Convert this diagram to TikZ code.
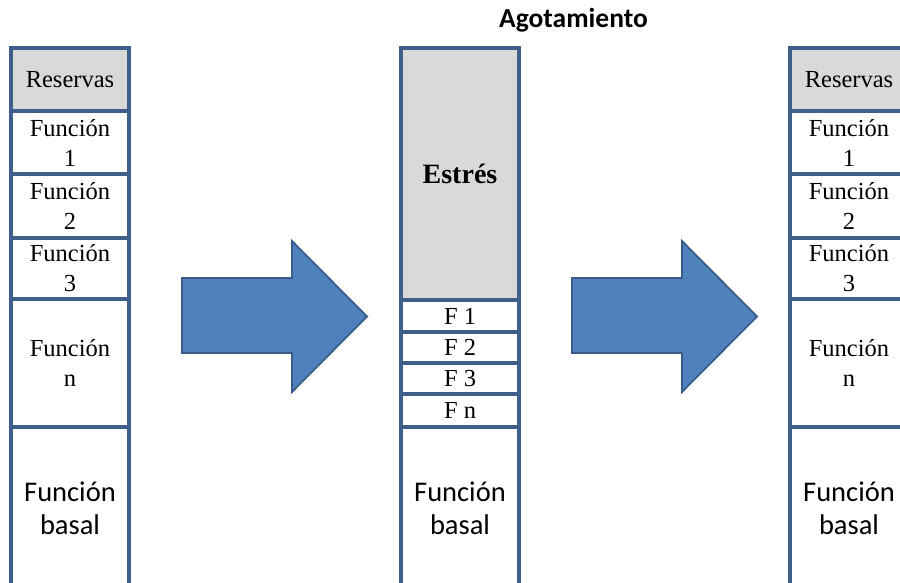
\documentclass[tikz,border=0pt]{standalone}
\usepackage{fontspec}
\setmainfont{Liberation Serif}
\newfontfamily\calib{Carlito}
\definecolor{edgeblue}{HTML}{3F5E8A}
\definecolor{cellgray}{HTML}{D9D9D9}
\definecolor{arrowfill}{HTML}{4F81BD}
\definecolor{arrowedge}{HTML}{385D8A}
\tikzset{
  cell/.style={draw=edgeblue, line width=3.2pt, rectangle, inner sep=0pt,
    minimum width=118pt, align=center, text=black,
    font=\fontsize{24.5}{30}\selectfont},
  graycell/.style={cell, fill=cellgray},
  basalcell/.style={cell, font=\calib\fontsize{28.5}{33}\selectfont},
  bigarrow/.style={fill=arrowfill, draw=arrowedge, line width=1.8pt, line join=miter},
  titletext/.style={font=\calib\bfseries\fontsize{27.5}{30}\selectfont, inner sep=0pt}
}
\begin{document}
\begin{tikzpicture}[x=1pt,y=-1pt]
\useasboundingbox (0,0) rectangle (900,583);
\clip (0,0) rectangle (900,583);
\fill[white] (0,0) rectangle (900,583);

% left column
\node[graycell, minimum height=63pt] (l0) at (70,79.5) {Reservas};
\node[cell, minimum height=63pt] (l1) at (70,142.5) {Función\\1};
\node[cell, minimum height=64pt] (l2) at (70,206) {Función\\2};
\node[cell, minimum height=61pt] (l3) at (70,268.5) {Función\\3};
\node[cell, minimum height=128pt] (ln) at (70,363) {Función\\n};
\node[basalcell, minimum height=163pt] (lb) at (70,508.5) {Función\\basal};

% middle column
\node[titletext, anchor=base] (title) at (573.5,28) {Agotamiento};
\node[graycell, minimum height=252pt, font=\bfseries\fontsize{28}{32}\selectfont] (m0) at (460,174) {Estrés};
\node[cell, minimum height=32pt] (m1) at (460,316) {F 1};
\node[cell, minimum height=31pt] (m2) at (460,347.5) {F 2};
\node[cell, minimum height=31pt] (m3) at (460,378.5) {F 3};
\node[cell, minimum height=33pt] (mn) at (460,410.5) {F n};
\node[basalcell, minimum height=163pt] (mb) at (460,508.5) {Función\\basal};

% right column
\node[graycell, minimum height=63pt] (r0) at (849,79.5) {Reservas};
\node[cell, minimum height=63pt] (r1) at (849,142.5) {Función\\1};
\node[cell, minimum height=64pt] (r2) at (849,206) {Función\\2};
\node[cell, minimum height=61pt] (r3) at (849,268.5) {Función\\3};
\node[cell, minimum height=128pt] (rn) at (849,363) {Función\\n};
\node[basalcell, minimum height=163pt] (rb) at (849,508.5) {Función\\basal};

% arrows
\draw[bigarrow] (182,278) -- (292,278) -- (292,241) -- (367,316.5) -- (292,392) -- (292,353) -- (182,353) -- cycle;
\draw[bigarrow] (572,278) -- (682,278) -- (682,241) -- (757,316.5) -- (682,392) -- (682,353) -- (572,353) -- cycle;
\end{tikzpicture}
\end{document}
